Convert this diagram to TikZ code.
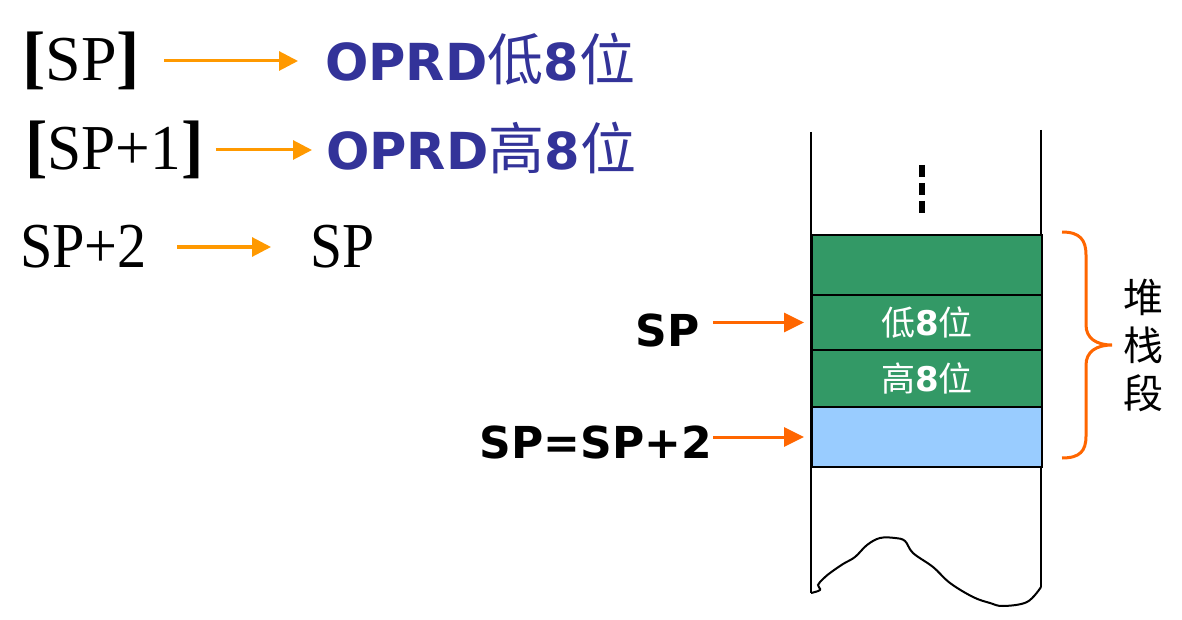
\documentclass[tikz,border=0pt]{standalone}
\usepackage{fontspec}
\setmainfont{Liberation Serif}
\newfontfamily\vfont{DejaVu Sans}
\newfontfamily\cjk{Noto Sans CJK SC}
\usetikzlibrary{arrows.meta}
\definecolor{topor}{HTML}{FF9900}
\definecolor{spor}{HTML}{FF6600}
\definecolor{oprd}{HTML}{333399}
\definecolor{stkgreen}{HTML}{339966}
\definecolor{stkblue}{HTML}{99CCFF}
\newcommand\myvb[1]{{\vfont\bfseries #1}}
\newcommand\mycj[1]{{\cjk #1}}
\newcommand\mycjbig[1]{{\cjk\fontsize{56}{60}\selectfont #1}}
\newcommand\mybr[1]{{\bfseries\fontsize{70}{70}\selectfont #1}}
\begin{document}
\begin{tikzpicture}[x=1pt,y=-1pt,
  serif/.style={inner sep=0pt, anchor=base west, font=\fontsize{64}{70}\selectfont, text height=50pt, text depth=10pt},
  oprdtxt/.style={inner sep=0pt, anchor=base west, text=oprd, font=\fontsize{51}{60}\selectfont, text height=50pt, text depth=10pt},
  toparr/.style={draw=topor, line width=3pt, -{Triangle[length=19pt,width=19pt]}},
  sparr/.style={draw=spor, line width=3pt, -{Triangle[length=20pt,width=19pt]}},
  cell/.style={draw=black, line width=2pt, minimum width=230pt, anchor=north west, inner sep=0pt, text=white, font=\fontsize{34}{40}\selectfont},
  splbl/.style={inner sep=0pt, anchor=east, font=\vfont\bfseries\fontsize{44}{50}\selectfont},
  stackline/.style={line width=2.5pt},
]
\useasboundingbox (0,0) rectangle (1182,620);
\fill[white] (0,0) rectangle (1182,620);

% top-left equations
\node[serif] (a1) at (22,81) {\mybr{[}SP\mybr{]}};
\node[oprdtxt] (b1) at (325,81) {\myvb{OPRD}\mycjbig{低}\myvb{8}\mycjbig{位}};
\node[serif] (a2) at (25,170) {\scalebox{0.96}[1]{\mybr{[}SP+1\mybr{]}}};
\node[oprdtxt] (b2) at (326,170) {\myvb{OPRD}\mycjbig{高}\myvb{8}\mycjbig{位}};
\node[serif] (a3) at (20,267) {\scalebox{0.91}[1]{SP+2}};
\node[serif] (b3) at (310,267) {\scalebox{0.9}[1]{SP}};

\draw[toparr] ([xshift=24pt]a1.east) -- ([xshift=-27pt]b1.west);
\draw[toparr] ([xshift=12pt]a2.east) -- ([xshift=-14pt]b2.west);
\draw[toparr] ([xshift=30pt]a3.east) -- ([xshift=-39pt]b3.west);

% stack
\draw[stackline] (811,132) -- (811,593);
\draw[stackline] (1041,130) -- (1041,587);
\draw[line width=2pt] plot[smooth, tension=0.6] coordinates {(811,593) (820,590) (818,585) (823,579) (830,573) (843,564) (855,557) (867,545) (880,538) (895,538) (905,541) (913,553) (933,567) (950,583) (973,597) (990,603) (1003,606) (1027,602) (1041,587)};
\draw[line width=5.5pt, dash pattern=on 12pt off 6pt] (922,165) -- (922,213);

\node[cell, fill=stkgreen, minimum height=60pt] (g0) at (811,234) {};
\node[cell, fill=stkgreen, minimum height=55pt] (lo) at (811,294) {\mycj{低}\myvb{8}\mycj{位}};
\node[cell, fill=stkgreen, minimum height=57pt] (hi) at (811,349) {\mycj{高}\myvb{8}\mycj{位}};
\node[cell, fill=stkblue, minimum height=60pt] (bl) at (811,406) {};

% pointers
\node[splbl] (splab) at (700,330) {SP};
\node[splbl] (sp2lab) at (712,442) {SP=SP+2};
\draw[sparr, shorten <=13pt, shorten >=7pt] (splab.east |- lo.west) -- (lo.west);
\draw[sparr, shorten <=1pt, shorten >=7pt] (sp2lab.east |- bl.west) -- (bl.west);

% brace and label
\draw[spor, line width=3pt] (1062,232) .. controls (1080,232) and (1086,240) .. (1086,255) -- (1086,325) .. controls (1086,338) and (1096,345) .. (1112,345) .. controls (1096,345) and (1086,352) .. (1086,365) -- (1086,436) .. controls (1086,451) and (1080,458) .. (1062,458);
\node[align=center, inner sep=0pt, font=\cjk\fontsize{40}{48}\selectfont] (seg) at (1143,345) {堆\\栈\\段};
\end{tikzpicture}
\end{document}
